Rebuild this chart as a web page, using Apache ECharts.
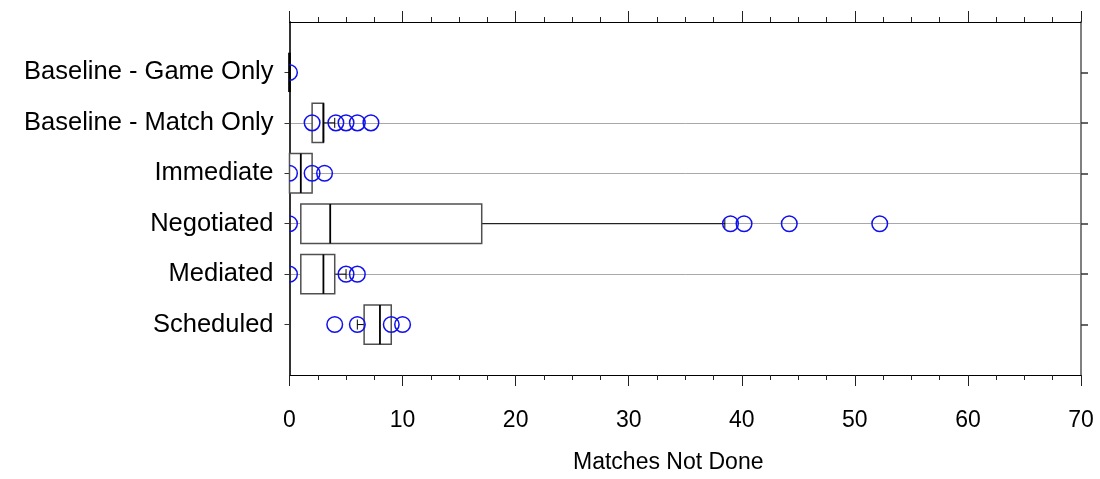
<!DOCTYPE html>
<html>
<head>
<meta charset="utf-8">
<script src="https://cdn.jsdelivr.net/npm/echarts@6/dist/echarts.min.js"></script>
<style>
  html, body { margin: 0; padding: 0; background: #fff; }
  #chart { width: 1100px; height: 479px; }
</style>
</head>
<body>
<div id="chart"></div>
<script>
// Groups, top to bottom
const categories = [
  'Baseline - Game Only',
  'Baseline - Match Only',
  'Immediate',
  'Negotiated',
  'Mediated',
  'Scheduled'
];
// Box summaries per group
const whiskerLow  = [0, 2, 0, 1,    1, 6];
const q1          = [0, 2, 0, 1,    1, 6.6];
const median      = [0, 3, 1, 3.6,  3, 8];
const q3          = [0, 3, 2, 17,   4, 9];
const whiskerHigh = [0, 4, 2, 38.5, 5, 9];
// Points drawn individually per group
const outliers = [
  [0],
  [2, 4.1, 5, 6, 7.2],
  [0, 2, 3.1],
  [0, 39, 40.2, 44.2, 52.2],
  [0, 5, 6],
  [4, 6, 9, 10]
];
const xTicks = [0, 10, 20, 30, 40, 50, 60, 70];

const FONT = "'Liberation Sans', Arial, sans-serif";
const positions = categories.map((_, i) => i + 1);

const boxData = categories.map((_, i) => [i + 1, whiskerLow[i], q1[i], median[i], q3[i], whiskerHigh[i]]);
const pointData = [];
outliers.forEach((vals, i) => vals.forEach(v => pointData.push([v, i + 1])));

function renderBox(params, api) {
  const pos = api.value(0);
  const lo = api.coord([api.value(1), pos]);
  const b1 = api.coord([api.value(2), pos]);
  const md = api.coord([api.value(3), pos]);
  const b3 = api.coord([api.value(4), pos]);
  const hi = api.coord([api.value(5), pos]);
  const band = api.size([0, 1])[1];
  const half = band * 0.39;
  const cap = 5;
  const y = b1[1];
  const children = [];
  const whisk = { stroke: '#000', lineWidth: 1 };
  if (lo[0] < b1[0] - 0.5) {
    children.push({ type: 'line', shape: { x1: lo[0], y1: y, x2: b1[0], y2: y }, style: whisk });
    children.push({ type: 'line', shape: { x1: lo[0], y1: y - cap, x2: lo[0], y2: y + cap }, style: whisk });
  }
  if (hi[0] > b3[0] + 0.5) {
    children.push({ type: 'line', shape: { x1: b3[0], y1: y, x2: hi[0], y2: y }, style: whisk });
    children.push({ type: 'line', shape: { x1: hi[0], y1: y - cap, x2: hi[0], y2: y + cap }, style: whisk });
  }
  const flat = b3[0] - b1[0] < 1;
  children.push({
    type: 'rect',
    shape: { x: b1[0], y: y - half, width: Math.max(b3[0] - b1[0], 0), height: half * 2 },
    style: { fill: '#fff', stroke: flat ? '#000' : '#505050', lineWidth: flat ? 2.5 : 1.5 }
  });
  children.push({
    type: 'line',
    shape: { x1: md[0], y1: y - half, x2: md[0], y2: y + half },
    style: { stroke: '#000', lineWidth: 1.8 }
  });
  return { type: 'group', children };
}

// Open circles; the part left of the plot edge is cut away
function renderPoint(params, api) {
  const c = api.coord([api.value(0), api.value(1)]);
  const r = 7.8;
  const left = params.coordSys.x;
  let a = Math.PI;
  const d = (left - c[0]) / r;
  if (d > -1) a = Math.acos(Math.max(-1, Math.min(1, d)));
  const style = { fill: 'none', stroke: '#1010ee', lineWidth: 1.5 };
  if (a >= Math.PI) {
    return { type: 'circle', shape: { cx: c[0], cy: c[1], r }, style };
  }
  return {
    type: 'arc',
    shape: { cx: c[0], cy: c[1], r, startAngle: -a, endAngle: a, clockwise: true },
    style
  };
}

const xBase = {
  type: 'value', min: 0, max: 70, interval: 10,
  splitLine: { show: false },
  minorTick: { show: true, splitNumber: 4, length: 5, lineStyle: { color: '#222', width: 1 } },
  axisTick: { show: true, length: 11, lineStyle: { color: '#222', width: 1 } },
  axisLine: { show: true, onZero: false, lineStyle: { color: '#000', width: 1 } }
};

const yBase = {
  type: 'value', min: 0, max: 7, interval: 1, inverse: true
};

const chart = echarts.init(document.getElementById('chart'), null, { renderer: 'canvas' });
chart.setOption({
  animation: false,
  backgroundColor: '#fff',
  grid: { left: 289.5, right: 19, top: 22, bottom: 94, containLabel: false },
  xAxis: [
    Object.assign({}, xBase, {
      position: 'bottom',
      name: 'Matches Not Done',
      nameLocation: 'middle',
      nameGap: 76,
      nameTextStyle: { fontFamily: FONT, fontSize: 23, color: '#000', padding: [0, 34, 0, 0] },
      axisLabel: {
        margin: 34, fontFamily: FONT, fontSize: 23, color: '#000',
        customValues: xTicks
      }
    }),
    Object.assign({}, xBase, {
      position: 'top',
      axisLabel: { show: false }
    })
  ],
  yAxis: [
    Object.assign({}, yBase, {
      position: 'left',
      axisLine: { show: true, onZero: false, lineStyle: { color: '#333', width: 2 } },
      axisTick: { show: true, length: 5, customValues: positions, lineStyle: { color: '#333' } },
      axisLabel: {
        margin: 16, fontFamily: FONT, fontSize: 25.5, color: '#000',
        customValues: positions,
        formatter: v => categories[v - 1] || ''
      },
      splitLine: { show: true, showMinLine: false, showMaxLine: false, lineStyle: { color: '#a8a8a8', width: 1 } }
    }),
    Object.assign({}, yBase, {
      position: 'right',
      axisLine: { show: true, onZero: false, lineStyle: { color: '#808080', width: 2 } },
      axisTick: { show: true, length: 7, customValues: positions, lineStyle: { color: '#333', width: 1.5 } },
      axisLabel: { show: false },
      splitLine: { show: false }
    })
  ],
  series: [
    {
      type: 'custom',
      name: 'box',
      xAxisIndex: 0, yAxisIndex: 0,
      renderItem: renderBox,
      encode: { x: [1, 2, 3, 4, 5], y: 0 },
      data: boxData,
      z: 2
    },
    {
      type: 'custom',
      name: 'points',
      xAxisIndex: 0, yAxisIndex: 0,
      renderItem: renderPoint,
      encode: { x: 0, y: 1 },
      data: pointData,
      z: 3
    }
  ]
});
</script>
</body>
</html>
